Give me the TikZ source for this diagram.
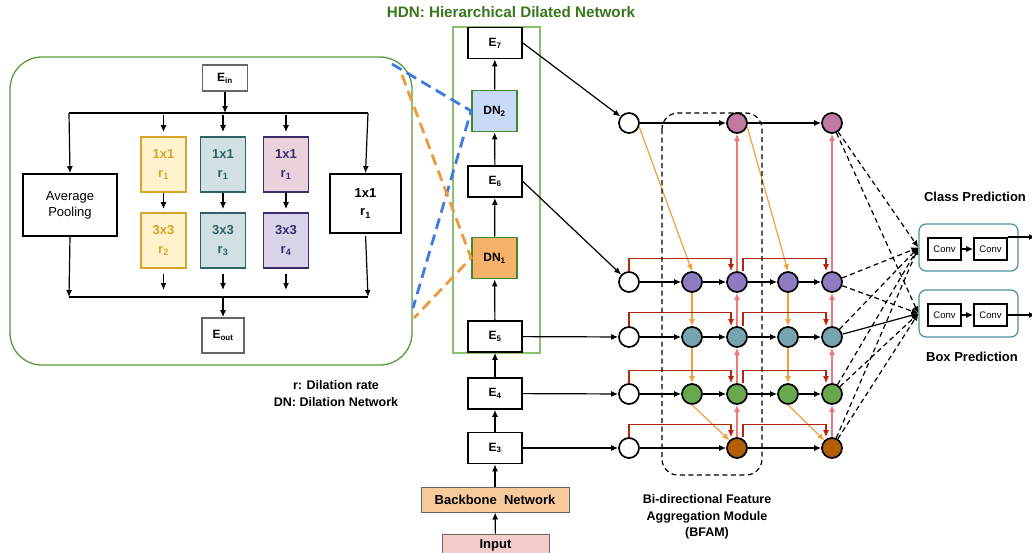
\documentclass[tikz,border=0pt]{standalone}
\usepackage{fontspec}
\setmainfont{Liberation Sans}
\usetikzlibrary{arrows.meta}
\definecolor{panelgreen}{HTML}{5B9B3C}
\definecolor{hdnframe}{HTML}{8CC070}
\definecolor{dngreen}{HTML}{3F8A2A}
\definecolor{titlegreen}{HTML}{38761D}
\definecolor{dnbluefill}{HTML}{C9DAF8}
\definecolor{dnorangefill}{HTML}{F6B26B}
\definecolor{zoomblue}{HTML}{3C7BE0}
\definecolor{zoomorange}{HTML}{F0993A}
\definecolor{yfill}{HTML}{FFF2CC}
\definecolor{yline}{HTML}{D6A52A}
\definecolor{tfill}{HTML}{D0E0E3}
\definecolor{tline}{HTML}{2F6165}
\definecolor{pfill}{HTML}{EAD1DC}
\definecolor{lfill}{HTML}{D9D2E9}
\definecolor{vline}{HTML}{3B2C6B}
\definecolor{iogray}{HTML}{666666}
\definecolor{backfill}{HTML}{F9CB9C}
\definecolor{inputfill}{HTML}{F4CCCC}
\definecolor{fpink}{HTML}{C27BA0}
\definecolor{fpurple}{HTML}{8E7CC3}
\definecolor{fteal}{HTML}{76A5AF}
\definecolor{fgreen}{HTML}{6AA84F}
\definecolor{fbrown}{HTML}{B45F06}
\definecolor{downorange}{HTML}{F0A03C}
\definecolor{upred}{HTML}{EA7A7A}
\definecolor{skipred}{HTML}{B3260B}
\definecolor{predteal}{HTML}{4E8F9C}
\begin{document}
\begin{tikzpicture}[x=1pt,y=-1pt,line width=1.2pt,>={Latex[length=7pt,width=6pt]},
  every node/.style={font=\bfseries\fontsize{12}{15}\selectfont,inner sep=1pt},
  ebox/.style={draw,line width=1.8pt,minimum width=54pt,minimum height=31pt},
  dnbox/.style={draw=dngreen,line width=1.8pt,minimum width=45pt,minimum height=41pt},
  iobox/.style={draw=iogray,line width=1.8pt,minimum width=45pt,minimum height=26pt},
  convbox/.style={draw,line width=1.8pt,minimum width=45pt,minimum height=55pt,align=center,font=\bfseries\fontsize{13}{19}\selectfont},
  fnode/.style={circle,draw,line width=1.7pt,minimum size=20pt,inner sep=0pt},
  headbox/.style={draw=predteal,line width=1.2pt,rounded corners=7pt,minimum width=99pt,minimum height=47pt},
  convunit/.style={draw,line width=1.7pt,minimum width=33pt,minimum height=22pt,font=\fontsize{9.5}{11}\selectfont},
  topdown/.style={draw=downorange,->},
  bottomup/.style={draw=upred,->},
  skiplink/.style={draw=skipred,->},
  headlink/.style={dash pattern=on 5pt off 3.5pt,->}]
\useasboundingbox (0,0) rectangle (1032,552);
% dilated network detail
\draw[panelgreen,line width=1.3pt,rounded corners=32pt] (10,57) rectangle (412,365);
\node[iobox] (Ein) at (225,78) {E\textsubscript{in}};
\node[draw,line width=1.8pt,minimum width=94pt,minimum height=62pt,align=center,font=\fontsize{13}{16}\selectfont] (avg) at (70,205) {Average\\Pooling};
\node[convbox,fill=yfill,draw=yline,text=yline] (y1) at (163.5,164.5) {1x1\\r\textsubscript{1}};
\node[convbox,fill=yfill,draw=yline,text=yline] (y2) at (163.5,240.5) {3x3\\r\textsubscript{2}};
\node[convbox,fill=tfill,draw=tline,text=tline] (t1) at (223,164.5) {1x1\\r\textsubscript{1}};
\node[convbox,fill=tfill,draw=tline,text=tline] (t2) at (223,240.5) {3x3\\r\textsubscript{3}};
\node[convbox,fill=pfill,draw=vline,text=vline] (v1) at (286,164.5) {1x1\\r\textsubscript{1}};
\node[convbox,fill=lfill,draw=vline,text=vline] (v2) at (286,240.5) {3x3\\r\textsubscript{4}};
\node[convbox,minimum width=71pt,minimum height=59pt,font=\bfseries\fontsize{13}{18}\selectfont] (r1) at (365.5,203.5) {1x1\\r\textsubscript{1}};
\node[iobox,minimum width=42pt,minimum height=35pt] (Eout) at (223,335.5) {E\textsubscript{out}};
\coordinate (splitL) at (69,113);
\coordinate (splitR) at (368,113);
\coordinate (joinL) at (69,297);
\coordinate (joinR) at (368,297);
\draw (splitL) -- (splitR);
\draw (joinL) -- (joinR);
\draw[->] (Ein) -- (Ein.south |- splitL);
\draw[->] (splitL) -- (avg.north);
\draw[->] (splitR) -- (r1.north);
\draw[->] (avg.south) -- (joinL);
\draw[->,shorten <=2pt] (r1.south) -- (joinR);
\draw[->,shorten <=2pt,shorten >=4pt] (y1.north |- splitL) -- (y1.north);
\draw[->,shorten <=2pt,shorten >=4pt] (t1.north |- splitL) -- (t1.north);
\draw[->,shorten <=2pt,shorten >=4pt] (v1.north |- splitL) -- (v1.north);
\draw[->,shorten >=3pt] (y1) -- (y2);
\draw[->,shorten >=3pt] (t1) -- (t2);
\draw[->,shorten >=3pt] (v1) -- (v2);
\draw[->,shorten <=5pt,shorten >=7pt] (y2.south) -- (y2.south |- joinL);
\draw[->,shorten <=5pt,shorten >=7pt] (t2.south) -- (t2.south |- joinL);
\draw[->,shorten <=5pt,shorten >=7pt] (v2.south) -- (v2.south |- joinL);
\draw[->] (t2.south |- joinL) -- (Eout);
\node[align=center,font=\bfseries\fontsize{12.5}{17}\selectfont] (legend) at (336,393.5) {r: Dilation rate\\DN: Dilation Network};
% backbone and HDN column
\node[text=titlegreen,font=\bfseries\fontsize{15.2}{17}\selectfont] (title) at (511,12) {HDN: Hierarchical Dilated Network};
\draw[hdnframe,line width=1.5pt] (453,27) rectangle (540,353);
\node[ebox] (E7) at (495,43) {E\textsubscript{7}};
\node[dnbox,fill=dnbluefill] (DN2) at (494.5,111) {DN\textsubscript{2}};
\node[ebox] (E6) at (495,181.5) {E\textsubscript{6}};
\node[dnbox,fill=dnorangefill] (DN1) at (494.5,258) {DN\textsubscript{1}};
\node[ebox] (E5) at (495,336.5) {E\textsubscript{5}};
\node[ebox] (E4) at (495,393.5) {E\textsubscript{4}};
\node[ebox] (E3) at (495,448) {E\textsubscript{3}};
\node[draw=iogray,line width=1pt,fill=backfill,minimum width=148pt,minimum height=25pt,font=\bfseries\fontsize{13}{15}\selectfont] (backbone) at (495,499.5) {Backbone~~Network};
\node[draw=iogray,line width=1pt,fill=inputfill,minimum width=107pt,minimum height=22pt,font=\bfseries\fontsize{13}{15}\selectfont] (input) at (495.5,545) {Input};
\draw[->] (input) -- (backbone);
\draw[->] (backbone) -- (E3);
\draw[->] (E3) -- (E4);
\draw[->] (E4) -- (E5);
\draw[->] (E5) -- (DN1);
\draw[->] (DN1) -- (E6);
\draw[->] (E6) -- (DN2);
\draw[->] (DN2) -- (E7);
\begin{scope}[line width=2.8pt,dash pattern=on 11pt off 6pt]
\coordinate (blueA) at (392,64);
\coordinate (blueB) at (413,308);
\coordinate (orangeA) at (402,75);
\coordinate (orangeB) at (414,318);
\draw[zoomblue] (blueA) -- (DN2.west) -- (blueB);
\draw[zoomorange] (orangeA) -- (DN1.west) -- (orangeB);
\end{scope}
% feature aggregation
\node[fnode] (w7) at (629,123) {};
\node[fnode,fill=fpink] (b7) at (737,123) {};
\node[fnode,fill=fpink] (d7) at (832,123) {};
\node[fnode] (w6) at (629,282) {};
\node[fnode,fill=fpurple] (a6) at (692,282) {};
\node[fnode,fill=fpurple] (b6) at (737,282) {};
\node[fnode,fill=fpurple] (c6) at (788,282) {};
\node[fnode,fill=fpurple] (d6) at (832,282) {};
\node[fnode] (w5) at (629,337) {};
\node[fnode,fill=fteal] (a5) at (692,337) {};
\node[fnode,fill=fteal] (b5) at (737,337) {};
\node[fnode,fill=fteal] (c5) at (788,337) {};
\node[fnode,fill=fteal] (d5) at (832,337) {};
\node[fnode] (w4) at (629,394) {};
\node[fnode,fill=fgreen] (a4) at (692,394) {};
\node[fnode,fill=fgreen] (b4) at (737,394) {};
\node[fnode,fill=fgreen] (c4) at (788,394) {};
\node[fnode,fill=fgreen] (d4) at (832,394) {};
\node[fnode] (w3) at (629,448) {};
\node[fnode,fill=fbrown] (b3) at (737,448) {};
\node[fnode,fill=fbrown] (d3) at (832,448) {};
\draw[->] (E7.east) -- (w7);
\draw[->] (E6.east) -- (w6);
\draw[->] (E5) -- (w5);
\draw[->] (E4) -- (w4);
\draw[->] (E3) -- (w3);
\path[->] (w7) edge (b7) (b7) edge (d7);
\path[->] (w6) edge (a6) (a6) edge (b6) (b6) edge (c6) (c6) edge (d6);
\path[->] (w5) edge (a5) (a5) edge (b5) (b5) edge (c5) (c5) edge (d5);
\path[->] (w4) edge (a4) (a4) edge (b4) (b4) edge (c4) (c4) edge (d4);
\path[->] (w3) edge (b3) (b3) edge (d3);
\draw[topdown] (w7.-20) -- (a6.north);
\draw[topdown] (a6) -- (a5);
\draw[topdown] (a5) -- (a4);
\draw[topdown] (a4.south) -- (b3.135);
\draw[topdown] (b7.-20) -- (c6.north);
\draw[topdown] (c6) -- (c5);
\draw[topdown] (c5) -- (c4);
\draw[topdown] (c4.south) -- (d3.135);
\draw[bottomup] (b3) -- (b4);
\draw[bottomup] (b4) -- (b5);
\draw[bottomup] (b5) -- (b6);
\draw[bottomup] (b6) -- (b7);
\draw[bottomup] (d3) -- (d4);
\draw[bottomup] (d4) -- (d5);
\draw[bottomup] (d5) -- (d6);
\draw[bottomup] (d6) -- (d7);
\draw[skiplink] (w6.north) -- ++(0,-13) -| ([xshift=-6pt]b6.north);
\draw[skiplink] ([xshift=6pt]b6.north) -- ++(0,-13) -| ([xshift=-6pt]d6.north);
\draw[skiplink] (w5.north) -- ++(0,-14) -| ([xshift=-6pt]b5.north);
\draw[skiplink] ([xshift=6pt]b5.north) -- ++(0,-14) -| ([xshift=-6pt]d5.north);
\draw[skiplink] (w4.north) -- ++(0,-13) -| ([xshift=-6pt]b4.north);
\draw[skiplink] ([xshift=6pt]b4.north) -- ++(0,-13) -| ([xshift=-6pt]d4.north);
\draw[skiplink] (w3.north) -- ++(0,-13) -| ([xshift=-6pt]b3.north);
\draw[skiplink] ([xshift=6pt]b3.north) -- ++(0,-13) -| ([xshift=-6pt]d3.north);
\draw[dash pattern=on 5pt off 3.5pt,line width=1.2pt,rounded corners=16pt] (662,113) rectangle (762,475);
\node[align=center,font=\bfseries\fontsize{12.5}{16.5}\selectfont] (bfamcap) at (707,517) {Bi-directional Feature\\Aggregation Module\\(BFAM)};
% prediction heads
\node[headbox] (clshead) at (968.5,247.5) {};
\node[headbox] (boxhead) at (968.5,313.5) {};
\node[convunit] (cc1) at (944.5,249) {Conv};
\node[convunit] (cc2) at (990.5,249) {Conv};
\node[convunit] (bc1) at (944.5,315) {Conv};
\node[convunit] (bc2) at (990.5,315) {Conv};
\draw[->] (cc1) -- (cc2);
\draw[->] (bc1) -- (bc2);
\coordinate (clsout) at (1036,237);
\coordinate (boxout) at (1036,315);
\draw[->] (cc2.east |- clsout) -- (clsout);
\draw[->] (bc2) -- (boxout);
\node[font=\bfseries\fontsize{13}{15}\selectfont] (clslab) at (975,197) {Class Prediction};
\node[font=\bfseries\fontsize{13}{15}\selectfont] (boxlab) at (972,357) {Box Prediction};
\draw[headlink] (d7) -- (clshead.west);
\draw[headlink] (d7) -- (boxhead.west);
\draw[headlink] (d6) -- (clshead.west);
\draw[headlink] (d6) -- (boxhead.west);
\draw[headlink] (d5) -- (clshead.west);
\draw[->] (d5) -- (boxhead.west);
\draw[headlink] (d4) -- (clshead.west);
\draw[headlink] (d4) -- (boxhead.west);
\draw[headlink] (d3) -- (clshead.west);
\draw[headlink] (d3) -- (boxhead.west);
\end{tikzpicture}
\end{document}
